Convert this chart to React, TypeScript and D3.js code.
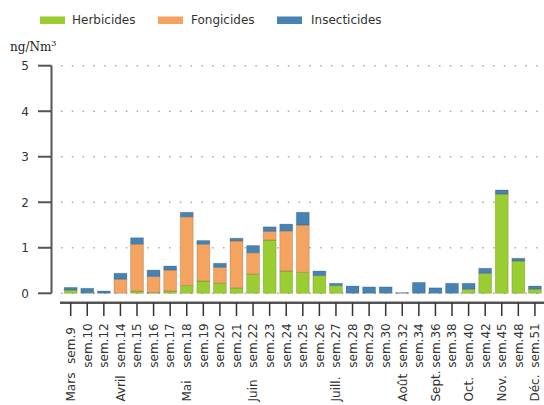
import React from "react";
import * as d3 from "d3";

const weeks = [
  "sem.9", "sem.10", "sem.12", "sem.14", "sem.15", "sem.16", "sem.17", "sem.18",
  "sem.19", "sem.20", "sem.21", "sem.22", "sem.23", "sem.24", "sem.25", "sem.26",
  "sem.27", "sem.28", "sem.29", "sem.30", "sem.32", "sem.34", "sem.36", "sem.38",
  "sem.40", "sem.42", "sem.45", "sem.48", "sem.51",
];
const herbicides = [
  0.07, 0.01, 0.0, 0.0, 0.05, 0.02, 0.05, 0.17, 0.27, 0.22, 0.12, 0.42, 1.17, 0.49,
  0.46, 0.39, 0.17, 0.0, 0.0, 0.0, 0.0, 0.0, 0.0, 0.0, 0.09, 0.44, 2.18, 0.71, 0.09,
];
const fongicides = [
  0.0, 0.0, 0.0, 0.31, 1.03, 0.35, 0.46, 1.51, 0.81, 0.35, 1.03, 0.47, 0.19, 0.88,
  1.04, 0.0, 0.0, 0.0, 0.0, 0.0, 0.0, 0.0, 0.0, 0.0, 0.0, 0.0, 0.0, 0.0, 0.0,
];
const insecticides = [
  0.06, 0.1, 0.05, 0.13, 0.14, 0.14, 0.09, 0.1, 0.08, 0.09, 0.06, 0.16, 0.1, 0.15,
  0.28, 0.1, 0.05, 0.16, 0.14, 0.14, 0.015, 0.24, 0.12, 0.22, 0.13, 0.11, 0.09, 0.06, 0.07,
];
const seriesNames = ["Herbicides", "Fongicides", "Insecticides"];
const seriesColors = ["#9acd32", "#f4a460", "#4682b4"];
const yTicks = [0, 1, 2, 3, 4, 5];
const months = [
  { label: "Mars", week: "sem.9" },
  { label: "Avril", week: "sem.14" },
  { label: "Mai", week: "sem.18" },
  { label: "Juin", week: "sem.22" },
  { label: "Juill.", week: "sem.27" },
  { label: "Août", week: "sem.32" },
  { label: "Sept.", week: "sem.36" },
  { label: "Oct.", week: "sem.40" },
  { label: "Nov.", week: "sem.45" },
  { label: "Déc.", week: "sem.51" },
];

const W = 544;
const H = 405;
const FONT = "DejaVu Sans, sans-serif";
const FS = 12;

export default function App() {
  const x = d3.scaleBand<string>().domain(weeks).range([62.4, 543.2]).paddingInner(0.22).paddingOuter(0.11);
  const y = d3.scaleLinear().domain([0, 5]).range([293.3, 65.7]);

  const rows = weeks.map((w, i) => ({
    week: w,
    Herbicides: herbicides[i],
    Fongicides: fongicides[i],
    Insecticides: insecticides[i],
  }));
  const stacked = d3.stack<any>().keys(seriesNames)(rows);

  const axisColor = "#555";
  const textColor = "#333";
  const xAxisY = 302.7;
  const center = (w: string) => (x(w) as number) + x.bandwidth() / 2;

  const legendItems = [
    { sx: 40, tx: 72 },
    { sx: 158, tx: 191 },
    { sx: 277, tx: 311 },
  ];

  return (
    <svg width={W} height={H} style={{ position: "absolute", left: 0, top: 0, background: "#fff" }}>
      {/* legend */}
      {seriesNames.map((name, i) => (
        <g key={name}>
          <rect x={legendItems[i].sx} y={16.5} width={25} height={7.5} fill={seriesColors[i]} />
          <text x={legendItems[i].tx} y={24} fontFamily={FONT} fontSize={FS} fill={textColor}>
            {name}
          </text>
        </g>
      ))}

      {/* unit label */}
      <text x={10} y={51} fontFamily="DejaVu Serif, serif" fontSize={12} fill="#222">
        ng/Nm<tspan dy={-5} fontSize={8}>3</tspan>
      </text>

      {/* grid */}
      {yTicks.map((t) => (
        <line
          key={"g" + t}
          x1={61}
          x2={W}
          y1={y(t)}
          y2={y(t)}
          stroke="#aaa"
          strokeWidth={1.5}
          strokeDasharray="1.5,9.3"
        />
      ))}

      {/* bars */}
      {stacked.map((s, si) =>
        s.map((d, i) => {
          const h = y(d[0]) - y(d[1]);
          if (h <= 0) return null;
          return (
            <rect
              key={si + "-" + i}
              x={x(weeks[i])}
              y={y(d[1])}
              width={x.bandwidth()}
              height={h}
              fill={seriesColors[si]}
              stroke="rgba(0,0,0,0.15)"
              strokeWidth={1}
            />
          );
        })
      )}

      {/* y axis */}
      <line x1={51.5} x2={51.5} y1={y(5)} y2={y(0)} stroke={axisColor} strokeWidth={2} />
      {yTicks.map((t) => (
        <g key={"y" + t}>
          <line x1={38} x2={51.5} y1={y(t)} y2={y(t)} stroke={axisColor} strokeWidth={2} />
          <text
            x={29}
            y={y(t)}
            dy="0.36em"
            textAnchor="end"
            fontFamily={FONT}
            fontSize={FS}
            fill={textColor}
          >
            {t}
          </text>
        </g>
      ))}

      {/* x axis */}
      <line x1={60} x2={W} y1={xAxisY} y2={xAxisY} stroke={axisColor} strokeWidth={2.5} />
      {weeks.map((w) => (
        <g key={w}>
          <line x1={center(w)} x2={center(w)} y1={xAxisY} y2={316} stroke="#333" strokeWidth={1.5} />
          <text
            transform={`translate(${center(w)},345.5) rotate(-90)`}
            dy="0.36em"
            textAnchor="middle"
            fontFamily={FONT}
            fontSize={FS}
            fill={textColor}
          >
            {w}
          </text>
        </g>
      ))}
      {months.map((m) => (
        <text
          key={m.label}
          transform={`translate(${center(m.week)},401.5) rotate(-90)`}
          dy="0.36em"
          textAnchor="start"
          fontFamily={FONT}
          fontSize={FS}
          fill={textColor}
        >
          {m.label}
        </text>
      ))}
    </svg>
  );
}
